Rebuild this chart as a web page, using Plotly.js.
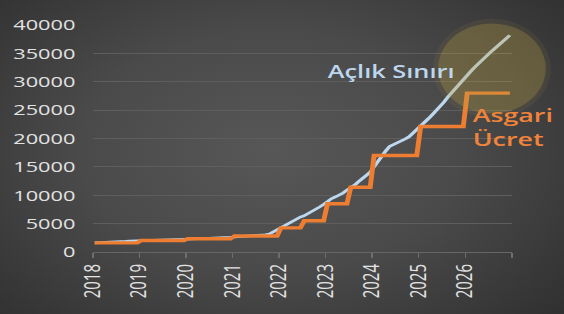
<!DOCTYPE html>
<html>
<head>
<meta charset="utf-8">
<script src="https://cdn.plot.ly/plotly-3.0.1.min.js"></script>
<style>
  html, body { margin: 0; padding: 0; }
  #wrap {
    width: 564px; height: 314px; overflow: hidden; position: relative;
    background: radial-gradient(ellipse 75% 85% at 48% 48%, #575757 0%, #4a4a4a 45%, #343434 85%, #2c2c2c 100%);
  }
  #plot {
    width: 389px; height: 314px;
    transform: scaleX(1.4499); transform-origin: 0 0;
  }
</style>
</head>
<body>
<div id="wrap"><div id="plot"></div></div>
<script>
// ---- data ----
const years = [2018, 2019, 2020, 2021, 2022, 2023, 2024, 2025, 2026];
const tickLabels = ['2018','2019','2020','2021','2022','2023','2024','2025','2026',''];

// Açlık Sınırı (monthly, Jan..Dec), per year
const hunger2018 = [1600, 1620, 1650, 1680, 1700, 1730, 1760, 1800, 1880, 1950, 1980, 1990];
const hunger2019 = [2010, 2030, 2060, 2080, 2100, 2110, 2120, 2140, 2160, 2180, 2200, 2220];
const hunger2020 = [2250, 2270, 2290, 2320, 2350, 2370, 2390, 2420, 2450, 2490, 2540, 2590];
const hunger2021 = [2630, 2680, 2720, 2780, 2820, 2850, 2880, 2950, 3050, 3180, 3560, 4050];
const hunger2022 = [4400, 4750, 5150, 5550, 5900, 6150, 6400, 6750, 7150, 7550, 7950, 8400];
const hunger2023 = [9000, 9400, 9700, 10000, 10400, 10900, 11300, 11800, 12400, 12900, 13500, 14100];
const hunger2024 = [15100, 16100, 16800, 17800, 18600, 18900, 19200, 19500, 19900, 20300, 20900, 21500];
const hunger2025 = [22200, 22900, 23500, 24200, 24900, 25600, 26400, 27300, 28100, 28900, 29700, 30500];
const hunger2026 = [31200, 31900, 32600, 33300, 33900, 34500, 35200, 35800, 36400, 37000, 37600, 38200];

// Asgari Ücret (net), first half / second half of each year
const wageJanJun = [1603, 2020, 2324, 2826, 4253, 8506, 17002, 22104, 28000];
const wageJulDec = [1603, 2020, 2324, 2826, 5500, 11402, 17002, 22104, 28000];

const hungerByYear = [hunger2018, hunger2019, hunger2020, hunger2021, hunger2022,
                      hunger2023, hunger2024, hunger2025, hunger2026];

const xs = [], hunger = [], wage = [];
years.forEach((yr, i) => {
  for (let m = 0; m < 12; m++) {
    xs.push(yr + (m + 0.5) / 12);
    hunger.push(hungerByYear[i][m]);
    wage.push(m < 6 ? wageJanJun[i] : wageJulDec[i]);
  }
});

const traces = [
  { x: xs, y: hunger, type: 'scatter', mode: 'lines', name: 'Açlık Sınırı',
    line: { color: '#bdd7ee', width: 2.6 }, hoverinfo: 'skip' },
  { x: xs, y: wage, type: 'scatter', mode: 'lines', name: 'Asgari Ücret',
    line: { color: '#ed7d31', width: 3.4 }, hoverinfo: 'skip' }
];

const tickVals = years.concat([2027]);

const layout = {
  width: 389, height: 314,
  margin: { l: 64, r: 36, t: 25, b: 62 },
  paper_bgcolor: 'rgba(0,0,0,0)',
  plot_bgcolor: 'rgba(0,0,0,0)',
  showlegend: false,
  xaxis: {
    range: [2018, 2027], tickmode: 'array', tickvals: tickVals, ticktext: tickLabels,
    tickangle: -90, ticks: 'outside', ticklen: 5, tickcolor: '#6e6e6e', tickwidth: 1,
    showline: true, linecolor: '#666666', linewidth: 1,
    showgrid: false, zeroline: false,
    tickfont: { family: 'Open Sans, sans-serif', size: 15, color: '#e2e2e2' }
  },
  yaxis: {
    range: [0, 40000], dtick: 5000, tickformat: 'd',
    showgrid: true, gridcolor: '#5e5e5e', gridwidth: 1,
    zeroline: false, showline: false, ticks: '',
    ticklabelstandoff: 11,
    tickfont: { family: 'Open Sans, sans-serif', size: 15, color: '#e2e2e2' }
  },
  shapes: [
    { type: 'circle', xref: 'paper', yref: 'paper', layer: 'above',
      x0: 0.812, x1: 1.093, y0: 0.590, y1: 1.027,
      fillcolor: 'rgba(190,160,70,0.08)', line: { width: 0 } },
    { type: 'circle', xref: 'paper', yref: 'paper', layer: 'above',
      x0: 0.824, x1: 1.081, y0: 0.610, y1: 1.007,
      fillcolor: 'rgba(190,160,70,0.27)', line: { width: 0 } }
  ],
  annotations: [
    { x: 2024.40, y: 31890, xref: 'x', yref: 'y', text: 'Açlık Sınırı', showarrow: false,
      xanchor: 'center', yanchor: 'middle',
      font: { family: 'Open Sans, sans-serif', size: 17.5, weight: 600, color: '#bdd7ee' } },
    { x: 2026.10, y: 22200, xref: 'x', yref: 'y', text: 'Asgari<br>Ücret', showarrow: false,
      xanchor: 'left', yanchor: 'middle', align: 'left',
      font: { family: 'Open Sans, sans-serif', size: 18.5, weight: 600, color: '#f0843a' } }
  ]
};

Plotly.newPlot('plot', traces, layout, { staticPlot: true, displayModeBar: false });
</script>
</body>
</html>
